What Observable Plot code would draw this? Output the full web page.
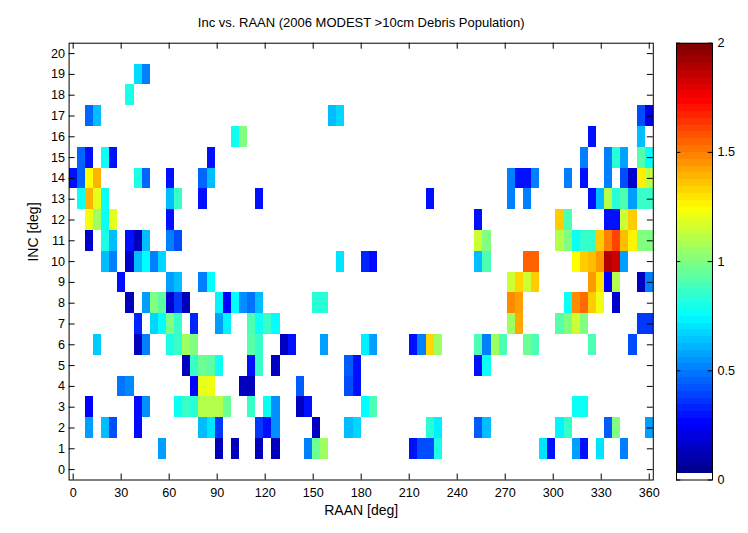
<!DOCTYPE html>
<html>
<head>
<meta charset="utf-8">
<script src="https://cdn.jsdelivr.net/npm/d3@7"></script>
<script src="https://cdn.jsdelivr.net/npm/@observablehq/plot@0.6"></script>
<style>
  html, body { margin: 0; padding: 0; background: white; }
  #wrap { position: relative; width: 748px; height: 533px; overflow: hidden; font-family: "Liberation Sans", Arial, Helvetica, sans-serif; }
  #wrap svg { position: absolute; top: 0; }
</style>
</head>
<body>
<div id="wrap"></div>
<script>
// ---- Data ----
const titleText = "Inc vs. RAAN (2006 MODEST >10cm Debris Population)";
const xLabel = "RAAN [deg]";
const yLabel = "INC [deg]";
const raanTicks = [0, 30, 60, 90, 120, 150, 180, 210, 240, 270, 300, 330, 360];
const incTicks = [0,1,2,3,4,5,6,7,8,9,10,11,12,13,14,15,16,17,18,19,20];
const colorTicks = [0, 0.5, 1, 1.5, 2];
const raanBinCount = 72; // RAAN bins spread over 0..360

// each row: [RAAN bin index, population value]
const inc19 = [[8,0.68],[9,0.5]];
const inc18 = [[7,0.8]];
const inc17 = [[2,0.45],[3,0.62],[32,0.62],[33,0.67],[70,0.4],[71,0.2]];
const inc16 = [[20,0.78],[21,1.0],[64,0.28],[70,0.62]];
const inc15 = [[1,0.45],[2,0.28],[4,0.77],[5,0.28],[17,0.28],[63,0.5],[66,0.5],[67,0.83],[68,0.57],[70,0.92],[71,0.75]];
const inc14 = [[0,0.28],[1,0.45],[2,1.25],[3,1.4],[8,0.8],[9,0.45],[12,0.28],[16,0.45],[17,0.62],[54,0.5],[55,0.28],[56,0.28],[57,0.5],[61,0.5],[63,0.28],[66,0.5],[68,0.4],[69,0.15],[70,1.28],[71,1.12]];
const inc13 = [[1,0.78],[2,1.4],[3,1.2],[4,0.77],[12,0.62],[13,0.86],[16,0.28],[23,0.28],[44,0.28],[54,0.5],[56,0.5],[64,0.28],[65,0.62],[66,1.1],[67,0.83],[68,0.9],[69,0.56],[70,0.86],[71,0.86]];
const inc12 = [[2,1.22],[3,1.06],[4,0.77],[5,1.2],[12,0.28],[50,0.28],[60,1.35],[61,0.9],[66,0.28],[67,0.28],[68,1.15],[69,1.35]];
const inc11 = [[2,0.15],[4,0.8],[5,0.62],[7,0.28],[8,0.12],[9,0.62],[12,0.5],[13,0.4],[50,1.15],[51,1.0],[60,1.1],[61,1.0],[62,0.77],[63,0.85],[64,0.85],[65,1.35],[66,1.5],[67,1.62],[68,1.38],[69,1.27],[70,1.0],[71,1.0]];
const inc10 = [[4,0.62],[5,0.5],[7,0.15],[8,0.62],[9,0.75],[10,0.5],[11,0.67],[33,0.7],[36,0.32],[37,0.27],[50,0.62],[51,0.9],[56,1.56],[57,1.56],[62,1.25],[63,1.35],[64,1.38],[65,1.45],[66,1.9],[67,1.85],[68,0.56]];
const inc9 = [[6,0.28],[12,0.56],[13,0.62],[16,0.5],[17,0.75],[54,1.15],[55,1.33],[56,1.15],[57,1.35],[64,1.45],[65,1.3],[66,0.25],[67,1.1],[70,0.13],[71,0.5]];
const inc8 = [[7,0.12],[9,0.56],[10,1.0],[11,0.93],[12,0.15],[13,0.36],[14,0.12],[18,0.73],[19,0.25],[20,0.75],[21,0.53],[22,0.47],[23,0.62],[30,0.83],[31,0.83],[54,1.48],[55,1.44],[61,0.77],[62,1.48],[63,1.54],[64,1.35],[65,1.22],[67,0.15]];
const inc7 = [[8,0.32],[10,0.67],[11,0.75],[12,1.0],[13,0.86],[15,0.32],[18,0.56],[19,0.73],[22,0.9],[23,0.77],[24,0.86],[25,0.75],[54,1.06],[55,1.42],[60,0.92],[61,1.0],[62,1.15],[63,1.0],[70,0.36],[71,0.36]];
const inc6 = [[3,0.65],[8,0.12],[9,0.5],[12,0.8],[13,0.86],[14,1.06],[15,1.0],[22,0.92],[23,0.86],[26,0.13],[27,0.28],[31,0.56],[36,0.72],[37,0.56],[42,0.28],[43,0.5],[44,1.33],[45,1.06],[50,0.9],[51,0.5],[52,1.06],[53,0.9],[56,0.96],[57,0.9],[64,0.9],[69,0.4]];
const inc5 = [[14,0.12],[15,0.86],[16,0.96],[17,0.93],[18,0.77],[22,0.28],[23,0.86],[25,0.13],[34,0.43],[35,0.28],[50,0.28],[51,0.77]];
const inc4 = [[6,0.48],[7,0.52],[15,0.25],[16,1.2],[17,1.22],[21,0.12],[22,0.12],[28,0.43],[34,0.4],[35,0.28]];
const inc3 = [[2,0.25],[8,0.27],[9,0.53],[13,0.77],[14,0.86],[15,0.83],[16,1.1],[17,1.1],[18,1.1],[19,0.96],[22,0.86],[24,0.77],[25,0.53],[28,0.13],[29,0.28],[36,0.75],[37,0.9],[62,0.77],[63,0.77]];
const inc2 = [[2,0.56],[4,0.62],[5,0.4],[8,0.27],[16,0.62],[17,0.7],[18,0.36],[23,0.36],[24,0.28],[25,0.53],[30,0.13],[34,0.62],[35,0.67],[44,0.83],[45,0.72],[50,0.43],[51,0.62],[60,0.73],[61,0.86],[66,0.43],[67,1.0],[71,0.56]];
const inc1 = [[11,0.56],[18,0.12],[20,0.12],[23,0.12],[25,0.12],[29,0.5],[30,0.96],[31,1.06],[42,0.28],[43,0.4],[44,0.4],[45,0.8],[58,0.7],[59,0.28],[62,0.56],[63,0.28],[65,0.7],[68,0.5]];

// jet colormap anchors (value domain 0..2)
const jetDomain = [0, 0.25, 0.75, 1.25, 1.75, 2];
const jetRange = ["#000080", "#0000ff", "#00ffff", "#ffff00", "#ff0000", "#800000"];

// ---- Build table ----
const rows = [[19,inc19],[18,inc18],[17,inc17],[16,inc16],[15,inc15],[14,inc14],[13,inc13],[12,inc12],[11,inc11],[10,inc10],[9,inc9],[8,inc8],[7,inc7],[6,inc6],[5,inc5],[4,inc4],[3,inc3],[2,inc2],[1,inc1]];
const binW = 360 / (raanBinCount - 1);
const cells = rows.flatMap(([inc, arr]) => arr.map(([k, v]) => ({
  x1: (k - 0.5) * binW, x2: (k + 0.5) * binW, y1: inc - 0.5, y2: inc + 0.5, v
})));

const font = '"Liberation Sans", Arial, Helvetica, sans-serif';
const colorScale = {type: "linear", domain: jetDomain, range: jetRange, interpolate: "rgb"};

const ML = 68.6, MR = 95.2, MT = 42.7, MB = 53.5;
const xDom = [-binW/2, 360 + binW/2];
const yDom = [-0.5, 20.5];
const tickLenY = 6 / 20.8;   // in INC units
const tickLenX = 6 / 1.6045;  // in RAAN units
const tickFont = 12.6, labelFont = 14, titleFont = 13;

const main = Plot.plot({
  width: 748, height: 533,
  marginLeft: ML, marginRight: MR, marginTop: MT, marginBottom: MB,
  style: {fontFamily: font, fontSize: tickFont + "px", background: "white", color: "black"},
  x: {domain: xDom},
  y: {domain: yDom},
  color: colorScale,
  marks: [
    Plot.rect(cells, {x1: "x1", x2: "x2", y1: "y1", y2: "y2", fill: "v", shapeRendering: "crispEdges"}),
    Plot.ruleX(raanTicks, {x: d => d, y1: yDom[0], y2: yDom[0] + tickLenY, stroke: "black", strokeWidth: 1}),
    Plot.ruleX(raanTicks, {x: d => d, y1: yDom[1], y2: yDom[1] - tickLenY, stroke: "black", strokeWidth: 1}),
    Plot.ruleY(incTicks, {y: d => d, x1: xDom[0], x2: xDom[0] + tickLenX, stroke: "black", strokeWidth: 1}),
    Plot.ruleY(incTicks, {y: d => d, x1: xDom[1], x2: xDom[1] - tickLenX, stroke: "black", strokeWidth: 1}),
    Plot.axisX({ticks: raanTicks, tickSize: 0, tickPadding: 8, label: null, fontSize: tickFont}),
    Plot.axisY({ticks: incTicks, tickSize: 0, tickPadding: 4, label: null, fontSize: tickFont}),
    Plot.frame({stroke: "black", strokeWidth: 1}),
    Plot.text([titleText], {frameAnchor: "top", dy: -20.7, lineAnchor: "middle", fontSize: titleFont}),
    Plot.text([xLabel], {frameAnchor: "bottom", dy: 30.5, lineAnchor: "middle", fontSize: labelFont}),
    Plot.text([yLabel], {frameAnchor: "left", dx: -35.6, rotate: -90, lineAnchor: "middle", fontSize: labelFont})
  ]
});
main.style.left = "0px";
document.getElementById("wrap").appendChild(main);

// ---- Colorbar ----
const nLevels = 64;
const levels = d3.range(nLevels).map(i => ({y1: i * 2 / nLevels, y2: (i + 1) * 2 / nLevels, v: i * 2 / (nLevels - 1)}));
const cbar = Plot.plot({
  width: 100, height: 533,
  marginLeft: 28, marginRight: 36, marginTop: MT, marginBottom: MB,
  style: {fontFamily: font, fontSize: tickFont + "px", background: "transparent", color: "black"},
  x: {domain: [0, 1], axis: null},
  y: {domain: [0, 2]},
  color: colorScale,
  marks: [
    Plot.rect(levels.slice(1), {x1: 0, x2: 1, y1: "y1", y2: "y2", fill: "v", shapeRendering: "crispEdges"}),
    Plot.rect(levels.slice(0, 1), {x1: 0, x2: 1, y1: "y1", y2: "y2", fill: "white", shapeRendering: "crispEdges"}),
    Plot.ruleY(colorTicks, {y: d => d, x1: 0, x2: 0.12, stroke: "black"}),
    Plot.ruleY(colorTicks, {y: d => d, x1: 1, x2: 0.88, stroke: "black"}),
    Plot.axisY({anchor: "right", ticks: colorTicks, tickSize: 0, tickPadding: 5, label: null, fontSize: tickFont, tickFormat: d => String(d)}),
    Plot.frame({stroke: "black", strokeWidth: 1})
  ]
});
cbar.style.left = "648px";
document.getElementById("wrap").appendChild(cbar);
</script>
</body>
</html>
